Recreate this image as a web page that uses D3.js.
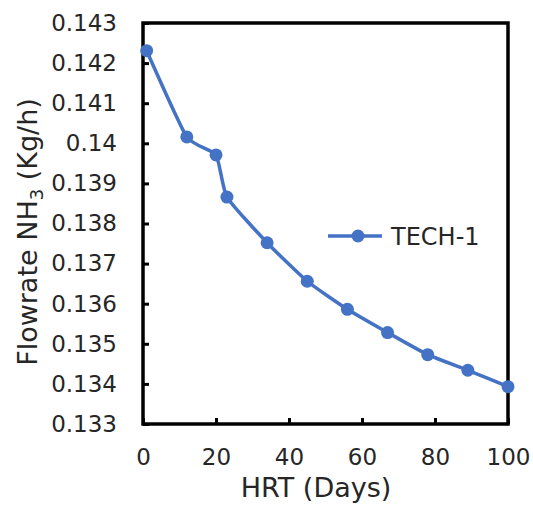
<!DOCTYPE html>
<html><head><meta charset="utf-8">
<script src="https://cdn.jsdelivr.net/npm/d3@7"></script>
<style>body{margin:0;background:#fff}</style>
</head><body>
<svg id="c" width="533" height="506"></svg>
<script>
const hrtDays = [1, 12, 20, 23, 34, 45, 56, 67, 78, 89, 100];
const tech1Flow = [0.14231, 0.14016, 0.13971, 0.13866, 0.13752, 0.13656, 0.13586, 0.13528, 0.13473, 0.13434, 0.13393];
const xTicks = [0, 20, 40, 60, 80, 100];
const yTicks = [0.133, 0.134, 0.135, 0.136, 0.137, 0.138, 0.139, 0.140, 0.141, 0.142, 0.143];
const seriesName = "TECH-1";

const svg = d3.select("#c");
const font = "'DejaVu Sans', Verdana, sans-serif";
const txt = "#262626";
const m = {l: 143, r: 508, t: 23, b: 424};
const x = d3.scaleLinear().domain([0, 100]).range([m.l, m.r]);
const y = d3.scaleLinear().domain([0.133, 0.143]).range([m.b, m.t]);
const color = "#4472C4";

const yAxis = d3.axisLeft(y).tickValues(yTicks).tickSize(-6).tickPadding(26)
  .tickFormat(d => String(+d.toFixed(3)));
const gy = svg.append("g").attr("transform", `translate(${m.l},0)`).call(yAxis);
gy.select(".domain").remove();
gy.selectAll("line").attr("stroke", "#000").attr("stroke-width", 3);
gy.selectAll("text").attr("font-family", font).attr("font-size", 23).attr("fill", txt);

const xAxis = d3.axisBottom(x).tickValues(xTicks).tickSize(-6).tickPadding(25).tickFormat(d => d);
const gx = svg.append("g").attr("transform", `translate(0,${m.b})`).call(xAxis);
gx.select(".domain").remove();
gx.selectAll("line").attr("stroke", "#000").attr("stroke-width", 3);
gx.selectAll("text").attr("font-family", font).attr("font-size", 23).attr("fill", txt);

svg.append("rect").attr("x", m.l).attr("y", m.t).attr("width", m.r - m.l).attr("height", m.b - m.t)
  .attr("fill", "none").attr("stroke", "#000").attr("stroke-width", 3.5);

const data = hrtDays.map((d, i) => ({x: d, y: tech1Flow[i]}));
const line = d3.line().x(d => x(d.x)).y(d => y(d.y)).curve(d3.curveCardinal.tension(0.5));
svg.append("path").datum(data).attr("d", line).attr("fill", "none")
  .attr("stroke", color).attr("stroke-width", 3.5);
svg.selectAll("circle.pt").data(data).enter().append("circle").attr("class", "pt")
  .attr("cx", d => x(d.x)).attr("cy", d => y(d.y)).attr("r", 6.5).attr("fill", color);

const ly = 236;
svg.append("line").attr("x1", 328).attr("x2", 382).attr("y1", ly).attr("y2", ly)
  .attr("stroke", color).attr("stroke-width", 3.5);
svg.append("circle").attr("cx", 358).attr("cy", ly).attr("r", 6.5).attr("fill", color);
svg.append("text").attr("x", 391).attr("y", ly).attr("dy", "0.36em").attr("font-family", font)
  .attr("font-size", 24).attr("fill", txt).text(seriesName);

svg.append("text").attr("x", 316).attr("y", 497).attr("text-anchor", "middle")
  .attr("font-family", font).attr("font-size", 27).attr("fill", txt).text("HRT (Days)");
const yt = svg.append("text").attr("transform", `translate(37,232) rotate(-90)`)
  .attr("text-anchor", "middle").attr("font-family", font).attr("font-size", 27).attr("fill", txt);
yt.append("tspan").text("Flowrate NH");
yt.append("tspan").attr("font-size", 18).attr("dy", 6).text("3");
yt.append("tspan").attr("dy", -6).text(" (Kg/h)");
</script>
</body></html>
